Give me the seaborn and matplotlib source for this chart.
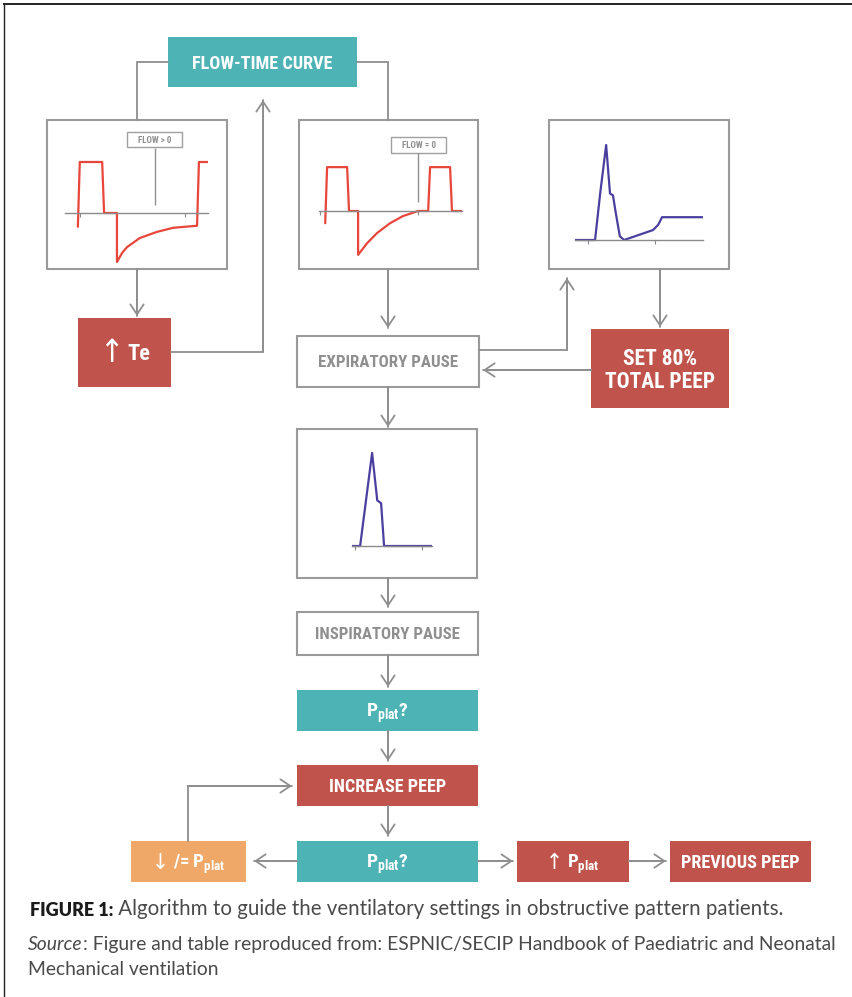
import matplotlib
matplotlib.use('Agg')
import matplotlib.pyplot as plt
from matplotlib import font_manager
from matplotlib.patches import Rectangle
import seaborn as sns

# --- waveforms (time in s, value in arbitrary units) ---
flow_long_t = [0.27, 0.31, 0.78, 0.82, 1.09, 1.09, 1.20, 1.30, 1.57, 1.93, 2.27, 2.77, 2.81, 3.02]
flow_long_v = [-0.27, 1.0, 1.0, 0.0, 0.0, -0.96, -0.78, -0.67, -0.49, -0.37, -0.29, -0.25, 1.0, 1.0]
flow_long_ticks = [0.31, 2.52]

flow_zero_t = [0.13, 0.17, 0.59, 0.63, 0.82, 0.82, 1.01, 1.22, 1.49, 1.76, 2.08, 2.29, 2.33, 2.75, 2.79, 3.0]
flow_zero_v = [-0.24, 0.86, 0.86, 0.0, 0.0, -0.86, -0.63, -0.43, -0.24, -0.10, 0.0, 0.0, 0.86, 0.86, 0.0, 0.0]
flow_zero_ticks = [0.03, 2.08]

pexp_t = [0.0, 0.47, 0.59, 0.73, 0.82, 0.89, 0.95, 1.05, 1.15, 1.83, 1.95, 2.04, 3.0]
pexp_v = [0.0, 0.0, 0.49, 1.0, 0.49, 0.47, 0.30, 0.04, 0.0, 0.105, 0.16, 0.24, 0.24]
pexp_ticks = [0.30, 1.875]

pins_t = [0.0, 0.19, 0.47, 0.59, 0.68, 0.75, 1.87]
pins_v = [0.0, 0.0, 0.98, 0.48, 0.45, 0.0, 0.0]
pins_ticks = [0.07, 1.64]

flow_labels = ['FLOW > 0', 'FLOW = 0']

TEAL = '#4DB3B5'
RED = '#C0544C'
ORANGE = '#F0A868'
GRAY = '#8F8F8F'
WAVE_RED = '#E8463A'
WAVE_BLUE = '#4A3F9E'

W, H = 852, 997
PX = 100 / 72  # pixels per point

sns.set_theme(style='white')

# pick a narrow bold face if one is installed, else Roboto
ttf = font_manager.fontManager.ttflist
narrow = [f for f in ttf if f.stretch in ('condensed', 'semi-condensed', 'extra-condensed')
          or 'Narrow' in f.name or 'Condensed' in f.name]
COND, STRETCH = 'Roboto', 'normal'
for pref in ['Roboto Condensed', 'Liberation Sans Narrow', 'Open Sans Condensed',
             'Noto Sans', 'DejaVu Sans', 'Open Sans']:
    hits = [f for f in narrow if f.name == pref]
    if hits:
        COND, STRETCH = pref, hits[0].stretch
        break
else:
    if narrow:
        COND, STRETCH = narrow[0].name, narrow[0].stretch

plt.rcParams['font.family'] = [COND, 'DejaVu Sans']
plt.rcParams['font.stretch'] = STRETCH
plt.rcParams['mathtext.fontset'] = 'custom'
pat = COND + ':bold' + (':stretch=' + STRETCH if STRETCH != 'normal' else '')
plt.rcParams['mathtext.rm'] = pat
plt.rcParams['mathtext.it'] = pat
plt.rcParams['mathtext.bf'] = pat

fig = plt.figure(figsize=(W / 100, H / 100), dpi=100)
ax = fig.add_axes([0, 0, 1, 1])
ax.set_xlim(0, W)
ax.set_ylim(H, 0)
ax.axis('off')
renderer = fig.canvas.get_renderer()

# page frame (top and left rule)
ax.plot([3, W], [4.5, 4.5], color='#222222', lw=1.4, solid_capstyle='butt')
ax.plot([3.5, 3.5], [4, H], color='#222222', lw=1.0, solid_capstyle='butt')


def label(x, y, s, size, color, width, arrow=None, arrow_scale=1.1):
    # caps centred on y; optional arrow glyph (DejaVu) in front of the text
    base = y + 0.355 * size * PX
    tr = ax.text(x, base, s, ha='left', va='baseline', fontsize=size, color=color,
                 fontweight='bold', fontstretch=STRETCH)
    wr = tr.get_window_extent(renderer).width
    if width and wr > width:
        size = size * width / wr
        base = y + 0.355 * size * PX
        tr.set_fontsize(size)
        tr.set_y(base)
        wr = tr.get_window_extent(renderer).width
    wa, gap = 0, 0
    if arrow:
        ta = ax.text(x, base + 0.04 * size * PX * arrow_scale, arrow, ha='left', va='baseline',
                     family='DejaVu Sans', fontsize=size * arrow_scale, color=color,
                     fontweight='normal')
        wa = ta.get_window_extent(renderer).width
        gap = 0.2 * size * PX
    x0 = x - (wa + gap + wr) / 2
    if arrow:
        ta.set_x(x0)
    tr.set_x(x0 + wa + gap)
    return tr


def box(x0, y0, x1, y1, kind, text=None, size=12, width=None, arrow=None, arrow_scale=1.1):
    if kind == 'outline':
        ax.add_patch(Rectangle((x0, y0), x1 - x0, y1 - y0, facecolor='white',
                               edgecolor='#9A9A9A', lw=1.5))
        tc = GRAY
    else:
        fc = {'teal': TEAL, 'red': RED, 'orange': ORANGE}[kind]
        ax.add_patch(Rectangle((x0, y0), x1 - x0, y1 - y0, facecolor=fc, edgecolor='none'))
        tc = 'white'
    if text:
        label((x0 + x1) / 2, (y0 + y1) / 2, text, size, tc, width, arrow, arrow_scale)


def connector(pts, arrow=True):
    xs = [p[0] for p in pts]
    ys = [p[1] for p in pts]
    ax.plot(xs, ys, color=GRAY, lw=1.3, solid_joinstyle='miter')
    if arrow:
        ax.annotate('', xy=pts[-1], xytext=pts[-2],
                    arrowprops=dict(arrowstyle='->,head_length=0.45,head_width=0.3',
                                    color=GRAY, lw=1.3, shrinkA=0, shrinkB=0,
                                    mutation_scale=16))


def panel(t, v, ticks, color, xa, xb, base, ppu, tmax, lo, hi):
    rect = [xa / W, 1 - (base - lo * ppu) / H, (xb - xa) / W, (hi - lo) * ppu / H]
    iax = fig.add_axes(rect)
    iax.patch.set_visible(False)
    sns.lineplot(x=t, y=v, sort=False, estimator=None, color=color, lw=1.6, ax=iax)
    iax.set_xlim(0, tmax)
    iax.set_ylim(lo, hi)
    for s in ['top', 'right', 'left']:
        iax.spines[s].set_visible(False)
    iax.spines['bottom'].set_position(('data', 0))
    iax.spines['bottom'].set_color('#8A8A8A')
    iax.spines['bottom'].set_linewidth(1.0)
    iax.set_xticks(ticks)
    iax.set_yticks([])
    iax.tick_params(axis='x', direction='out', length=3, width=0.8, color='#8A8A8A',
                    labelbottom=False, bottom=True)
    iax.set_xlabel('')
    iax.set_ylabel('')
    return iax


# frames for the waveform panels
for x0, y0, x1, y1 in [(47, 120, 227, 269), (299, 120, 478, 269),
                       (549, 120, 729, 269), (297, 429, 477, 578)]:
    box(x0, y0, x1, y1, 'outline')

# connectors
connector([(168, 62), (137, 62), (137, 120)], arrow=False)
connector([(357, 62), (388, 62), (388, 120)], arrow=False)
connector([(137, 269), (137, 316)])
connector([(171, 352), (263, 352), (263, 100)])
connector([(388, 269), (388, 328)])
connector([(479, 350), (567, 350), (567, 278)])
connector([(660, 269), (660, 327)])
connector([(591, 370), (483, 370)])
connector([(388, 387), (388, 427)])
connector([(388, 578), (388, 607)])
connector([(388, 655), (388, 687)])
connector([(388, 731), (388, 761)])
connector([(388, 806), (388, 836)])
connector([(297, 861), (254, 861)])
connector([(478, 861), (513, 861)])
connector([(629, 861), (666, 861)])
connector([(188, 841), (188, 786), (292, 786)])

# boxes
PPLAT = r'P$_{\mathrm{plat}}$'
box(168, 37, 357, 87, 'teal', 'FLOW-TIME CURVE', 14, 142)
box(78, 318, 171, 387, 'red', 'Te', 16, 30, arrow='↑', arrow_scale=1.45)
box(297, 336, 479, 387, 'outline', 'EXPIRATORY PAUSE', 14, 140)
box(591, 329, 729, 408, 'red')
label(660, 357, 'SET 80%', 15.5, 'white', None)
label(660, 380, 'TOTAL PEEP', 15.5, 'white', None)
box(297, 612, 478, 655, 'outline', 'INSPIRATORY PAUSE', 14, 146)
box(297, 690, 478, 731, 'teal', PPLAT + '?', 14, 56)
box(297, 765, 478, 806, 'red', 'INCREASE PEEP', 14, 118)
box(131, 841, 246, 882, 'orange', '/= ' + PPLAT, 13.5, 62, arrow='↓', arrow_scale=1.2)
box(297, 841, 478, 882, 'teal', PPLAT + '?', 14, 56)
box(517, 841, 629, 882, 'red', PPLAT, 13.5, 40, arrow='↑', arrow_scale=1.2)
box(670, 841, 811, 882, 'red', 'PREVIOUS PEEP', 14, 120)

# waveform panels
a1 = panel(flow_long_t, flow_long_v, flow_long_ticks, WAVE_RED, 65, 208, 213, 51, 3.0, -1.2, 1.6)
a1.vlines(1.89, 0.16, 1.27, color=GRAY, lw=1.0)
a2 = panel(flow_zero_t, flow_zero_v, flow_zero_ticks, WAVE_RED, 319, 462, 211, 51, 3.0, -1.2, 1.6)
a2.vlines(2.08, 0.18, 1.14, color=GRAY, lw=1.0)
panel(pexp_t, pexp_v, pexp_ticks, WAVE_BLUE, 575, 703, 240, 95, 3.0, -0.2, 1.2)
panel(pins_t, pins_v, pins_ticks, WAVE_BLUE, 352, 432, 546, 95, 1.87, -0.2, 1.2)

for (x0, y0, w, h), lab in zip([(127, 132, 55, 15), (391, 137, 55, 16)], flow_labels):
    ax.add_patch(Rectangle((x0, y0), w, h, facecolor='white', edgecolor='#A0A0A0', lw=1.0))
    label(x0 + w / 2, y0 + h / 2, lab, 6.5, GRAY, 38)

# caption
CAP = ['Lato', 'DejaVu Sans']
CAPC = '#4A4A4A'
t1 = ax.text(30, 916, 'FIGURE 1:', family=CAP, fontweight='heavy', fontsize=13,
             color='#1A1A1A', va='baseline', ha='left', fontstretch='normal')
ax.annotate(' Algorithm to guide the ventilatory settings in obstructive pattern patients.',
            xy=(1, 0), xycoords=t1, va='bottom', ha='left', family=CAP,
            fontweight='normal', fontsize=14.8, color=CAPC, fontstretch='normal')
t2 = ax.text(28, 950, 'Source', family=CAP, fontstyle='italic', fontweight='normal',
             fontsize=13.9, color=CAPC, va='baseline', ha='left', fontstretch='normal')
ax.annotate(': Figure and table reproduced from: ESPNIC/SECIP Handbook of Paediatric and Neonatal',
            xy=(1, 0), xycoords=t2, va='bottom', ha='left', family=CAP,
            fontweight='normal', fontsize=13.9, color=CAPC, fontstretch='normal')
ax.text(28, 975, 'Mechanical ventilation', family=CAP, fontweight='normal',
        fontsize=13.9, color=CAPC, va='baseline', ha='left', fontstretch='normal')

fig.savefig('out.png', dpi=100)
